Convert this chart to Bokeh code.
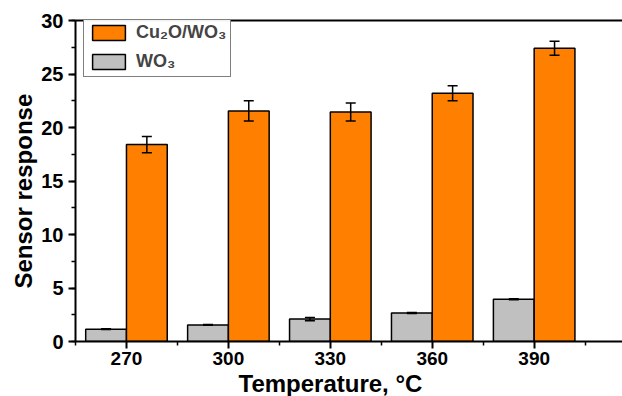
from bokeh.plotting import figure
from bokeh.models import (ColumnDataSource, Range1d, FixedTicker, SingleIntervalTicker,
                          LinearAxis, Whisker, TeeHead, Legend, LegendItem, Title)
from bokeh.transform import dodge
from bokeh.embed import file_html
from bokeh.resources import INLINE

temps = [270, 300, 330, 360, 390]
cu2o_wo3 = [18.4, 21.55, 21.45, 23.2, 27.4]
cu2o_wo3_err = [0.75, 0.95, 0.85, 0.7, 0.65]
wo3 = [1.15, 1.55, 2.1, 2.67, 3.95]
wo3_err = [0.03, 0.03, 0.15, 0.05, 0.05]
x_ticks = [270, 300, 330, 360, 390]
x_minor = [255, 285, 315, 345, 375, 405]

src = ColumnDataSource(dict(
    temp=temps,
    cu=cu2o_wo3, cu_up=[v + e for v, e in zip(cu2o_wo3, cu2o_wo3_err)],
    cu_lo=[v - e for v, e in zip(cu2o_wo3, cu2o_wo3_err)],
    wo=wo3, wo_up=[v + e for v, e in zip(wo3, wo3_err)],
    wo_lo=[v - e for v, e in zip(wo3, wo3_err)],
))

FONT = "Liberation Sans"
ORANGE = "#FF8000"
GRAY = "#C0C0C0"

p = figure(width=622, height=396, output_backend="svg", toolbar_location=None,
           x_range=Range1d(255, 416), y_range=Range1d(0, 30),
           min_border_left=75, min_border_right=0, min_border_top=20, min_border_bottom=0)
p.outline_line_color = None
p.grid.visible = False
p.background_fill_color = "white"

bw = 12
r_wo = p.vbar(x=dodge('temp', -6, range=p.x_range), top='wo', width=bw, source=src,
              fill_color=GRAY, line_color="black", line_width=1.5)
r_cu = p.vbar(x=dodge('temp', 6, range=p.x_range), top='cu', width=bw, source=src,
              fill_color=ORANGE, line_color="black", line_width=1.5)

for base_off, up, lo in [(6, 'cu_up', 'cu_lo'), (-6, 'wo_up', 'wo_lo')]:
    w = Whisker(source=src, base=dodge('temp', base_off, range=p.x_range), upper=up, lower=lo,
                line_color="black", line_width=1.5, level="overlay",
                upper_head=TeeHead(size=10, line_width=1.5, line_color="black"),
                lower_head=TeeHead(size=10, line_width=1.5, line_color="black"))
    p.add_layout(w)

xa = p.xaxis[0]
xa.ticker = FixedTicker(ticks=x_ticks, minor_ticks=x_minor)
ya = p.yaxis[0]
ya.ticker = SingleIntervalTicker(interval=5, num_minor_ticks=2)
for ax in (xa, ya):
    ax.axis_line_width = 2
    ax.major_tick_line_width = 2
    ax.minor_tick_line_width = 1.5
    ax.major_tick_in = 0
    ax.major_tick_out = 7
    ax.minor_tick_in = 0
    ax.minor_tick_out = 4
    ax.major_label_text_font = FONT
    ax.major_label_text_font_style = "bold"
    ax.major_label_text_color = "black"
xa.major_label_text_font_size = "19px"
ya.major_label_text_font_size = "20px"
xa.major_label_standoff = 3
ya.major_label_standoff = 5

xt = Title(text="Temperature, °C", align="left", offset=163, standoff=0,
           text_font=FONT, text_font_style="bold", text_font_size="24px", text_color="black")
p.add_layout(xt, "below")
yt = Title(text="Sensor response", align="left", offset=53, standoff=4,
           text_font=FONT, text_font_style="bold", text_font_size="24px", text_color="black")
p.add_layout(yt, "left")

top = LinearAxis(ticker=FixedTicker(ticks=[]), axis_line_width=2, major_tick_out=0, major_tick_in=0,
                 minor_tick_out=0, minor_tick_in=0, major_label_standoff=0,
                 major_label_text_font_size="0px")
p.add_layout(top, "above")

legend = Legend(items=[LegendItem(label="Cu₂O/WO₃", renderers=[r_cu]),
                       LegendItem(label="WO₃", renderers=[r_wo])],
                location=(8, 264))
legend.label_text_font = FONT
legend.label_text_font_style = "bold"
legend.label_text_font_size = "18px"
legend.glyph_width = 41
legend.glyph_height = 19
legend.label_standoff = 7
legend.padding = 4
legend.spacing = 8
legend.margin = 0
legend.border_line_color = "black"
legend.border_line_width = 1.5
legend.label_height = 19
p.add_layout(legend, "center")

open("out.html", "w").write(file_html(p, INLINE))
